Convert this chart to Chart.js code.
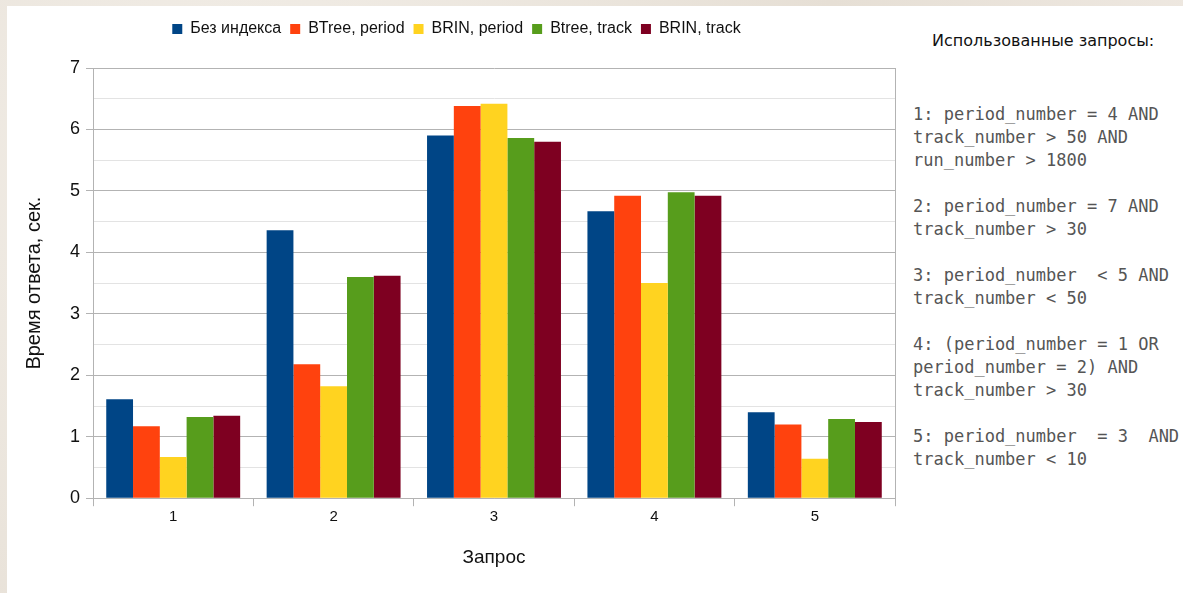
<!DOCTYPE html>
<html>
<head>
<meta charset="utf-8">
<script src="https://cdn.jsdelivr.net/npm/chart.js@4.4.1/dist/chart.umd.min.js"></script>
<style>
  html, body { margin: 0; padding: 0; }
  body {
    width: 1183px; height: 593px; overflow: hidden; position: relative;
    background: #ece6de;
    background-image: radial-gradient(circle at 20% 30%, #f3efe9 0, #e6dfd5 60%, #efe9e2 100%);
  }
  #card {
    position: absolute; left: 7px; top: 6px; width: 1176px; height: 587px;
    background: #ffffff;
  }
  #wrap { position: absolute; left: 0; top: 0; width: 900px; height: 587px; }
  #queries {
    position: absolute; left: 906px; top: 0; width: 270px;
  }
  #queries h3 {
    margin: 0; position: absolute; left: 19px; top: 25px; white-space: nowrap;
    font: normal 16px "DejaVu Sans", sans-serif; color: #111111;
  }
  #queries pre {
    margin: 0; position: absolute; left: 0; top: 97px;
    font: 17px/23px "DejaVu Sans Mono", monospace; color: #555555;
  }
</style>
</head>
<body>
<div id="card">
  <div id="wrap"><canvas id="times"></canvas></div>
  <div id="queries">
    <h3>Использованные запросы:</h3>
<pre>1: period_number = 4 AND
track_number &gt; 50 AND
run_number &gt; 1800

2: period_number = 7 AND
track_number &gt; 30

3: period_number  &lt; 5 AND
track_number &lt; 50

4: (period_number = 1 OR
period_number = 2) AND
track_number &gt; 30

5: period_number  = 3  AND
track_number &lt; 10</pre>
  </div>
</div>
<script>
var queries = [ "1", "2", "3", "4", "5" ];
var noIndex = [ 1.61, 4.36, 5.90, 4.67, 1.40 ];
var btreePeriod = [ 1.17, 2.18, 6.38, 4.92, 1.20 ];
var brinPeriod = [ 0.67, 1.82, 6.42, 3.50, 0.64 ];
var btreeTrack = [ 1.32, 3.60, 5.86, 4.98, 1.29 ];
var brinTrack = [ 1.34, 3.62, 5.80, 4.92, 1.24 ];

var plotFrame = {
    id : 'plotFrame',
    beforeInit : function(chart) {
        var fit = chart.legend.fit;
        chart.legend.fit = function() {
            fit.bind(chart.legend)();
            this.height += 21;
        };
    },
    afterDatasetsDraw : function(chart) {
        var a = chart.chartArea, ctx = chart.ctx;
        ctx.save();
        ctx.strokeStyle = '#b3b3b3';
        ctx.lineWidth = 1;
        ctx.beginPath();
        ctx.moveTo(Math.round(a.right) + 0.5, a.top);
        ctx.lineTo(Math.round(a.right) + 0.5, a.bottom);
        ctx.stroke();
        ctx.restore();
    }
};

Chart.defaults.font.family = '"Liberation Sans", Arial, sans-serif';
Chart.defaults.color = '#222222';

new Chart(document.getElementById("times"), {
    type : 'bar',
    data : {
        labels : queries,
        datasets : [
            { label : "Без индекса", data : noIndex, backgroundColor : "#004586" },
            { label : "BTree, period", data : btreePeriod, backgroundColor : "#ff420e" },
            { label : "BRIN, period", data : brinPeriod, backgroundColor : "#ffd320" },
            { label : "Btree, track", data : btreeTrack, backgroundColor : "#579d1c" },
            { label : "BRIN, track", data : brinTrack, backgroundColor : "#7e0021" }
        ]
    },
    options : {
        responsive : true,
        maintainAspectRatio : false,
        animation : false,
        datasets : { bar : { barPercentage : 1, categoryPercentage : 0.835 } },
        layout : { padding : { top : 6, left : 11, right : 12, bottom : 20 } },
        plugins : {
            legend : {
                position : 'top',
                labels : { boxWidth : 10, boxHeight : 10, padding : 9, font : { size : 16 }, color : '#111111' }
            },
            tooltip : { enabled : false }
        },
        scales : {
            x : {
                grid : { drawOnChartArea : false, tickLength : 8, color : '#b3b3b3' },
                border : { color : '#b3b3b3' },
                ticks : { font : { size : 15 }, padding : 2, color : '#111111' },
                title : { display : true, text : 'Запрос', font : { size : 19 }, padding : { top : 18 }, color : '#111111' }
            },
            y : {
                min : 0, max : 7,
                ticks : {
                    stepSize : 0.5,
                    font : { size : 18 }, padding : 6, color : '#111111',
                    callback : function(v) { return Number.isInteger(v) ? v : ''; }
                },
                grid : {
                    tickLength : 7,
                    color : function(c) { return Number.isInteger(c.tick.value) ? '#b3b3b3' : '#e3e3e3'; },
                    tickColor : function(c) { return Number.isInteger(c.tick.value) ? '#b3b3b3' : 'rgba(0,0,0,0)'; }
                },
                border : { color : '#b3b3b3' },
                title : { display : true, text : 'Время ответа, сек.', font : { size : 20 }, padding : { bottom : 18 }, color : '#111111' }
            }
        }
    },
    plugins : [ plotFrame ]
});
</script>
</body>
</html>
